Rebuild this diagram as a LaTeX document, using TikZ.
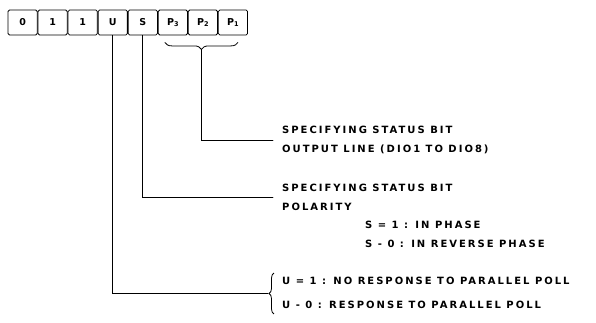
\documentclass[tikz,border=0pt]{standalone}
\usepackage{fontspec}
\setmainfont{DejaVu Sans}
\newfontfamily\scanfont[LetterSpace=20]{DejaVu Sans}
\usetikzlibrary{positioning,calc,decorations.pathreplacing}
\tikzset{
  bitbox/.style={draw,thick,rounded corners=1.5pt,minimum width=29.25pt,
    minimum height=25pt,inner sep=0pt,font=\bfseries\fontsize{9.5}{11}\selectfont},
  lead/.style={thick,line cap=round},
  curly/.style={thick,decorate,decoration={brace,amplitude=7pt}},
  note/.style={font=\scanfont\bfseries\fontsize{10}{19}\selectfont,
    align=left,anchor=west,inner sep=0pt}
}
\newcommand{\psub}[1]{P\raisebox{-1.5pt}{\fontsize{6.5}{6.5}\selectfont #1}}

\begin{document}
\begin{tikzpicture}[x=1pt,y=-1pt]
  \useasboundingbox (0,0) rectangle (596,322);
  % command byte
  \node[bitbox] (b1) at (22.6,22.5) {0};
  \node[bitbox,right=0pt of b1] (b2) {1};
  \node[bitbox,right=0pt of b2] (b3) {1};
  \node[bitbox,right=0pt of b3] (b4) {U};
  \node[bitbox,right=0pt of b4] (b5) {S};
  \node[bitbox,right=0pt of b5] (b6) {\psub{3}};
  \node[bitbox,right=0pt of b6] (b7) {\psub{2}};
  \node[bitbox,right=0pt of b7] (b8) {\psub{1}};

  % explanations
  \node[note] (ptext) at (282,140) {SPECIFYING STATUS BIT\\OUTPUT LINE (DIO1 TO DIO8)};
  \node[note] (stext) at (282,197) {SPECIFYING STATUS BIT\\POLARITY};
  \node[note] (sval) at (365,234) {S = 1 : IN PHASE\\S - 0 : IN REVERSE PHASE};
  \node[note,font=\scanfont\bfseries\fontsize{10}{24}\selectfont] (utext) at (282,293)
    {U = 1 : NO RESPONSE TO PARALLEL POLL\\U - 0 : RESPONSE TO PARALLEL POLL};

  % braces
  \coordinate (pl) at ([xshift=7pt,yshift=-7pt]b6.south west);
  \coordinate (pr) at ([xshift=-10pt,yshift=-7pt]b8.south east);
  \draw[curly] (pr) -- (pl);
  \coordinate (ptip) at ($(pl)!0.5!(pr)+(0,7)$);
  \draw[curly,decoration={amplitude=5pt}] ([xshift=-8pt,yshift=-5pt]utext.south west)
    -- ([xshift=-8pt,yshift=4pt]utext.north west);
  \coordinate (utip) at ([xshift=-14pt]utext.west);

  % leads
  \draw[lead] (ptip) |- ([xshift=-9pt]ptext.west);
  \draw[lead] (b5.south) |- ([xshift=-9pt]stext.west);
  \draw[lead] (b4.south) |- (utip);
\end{tikzpicture}
\end{document}
